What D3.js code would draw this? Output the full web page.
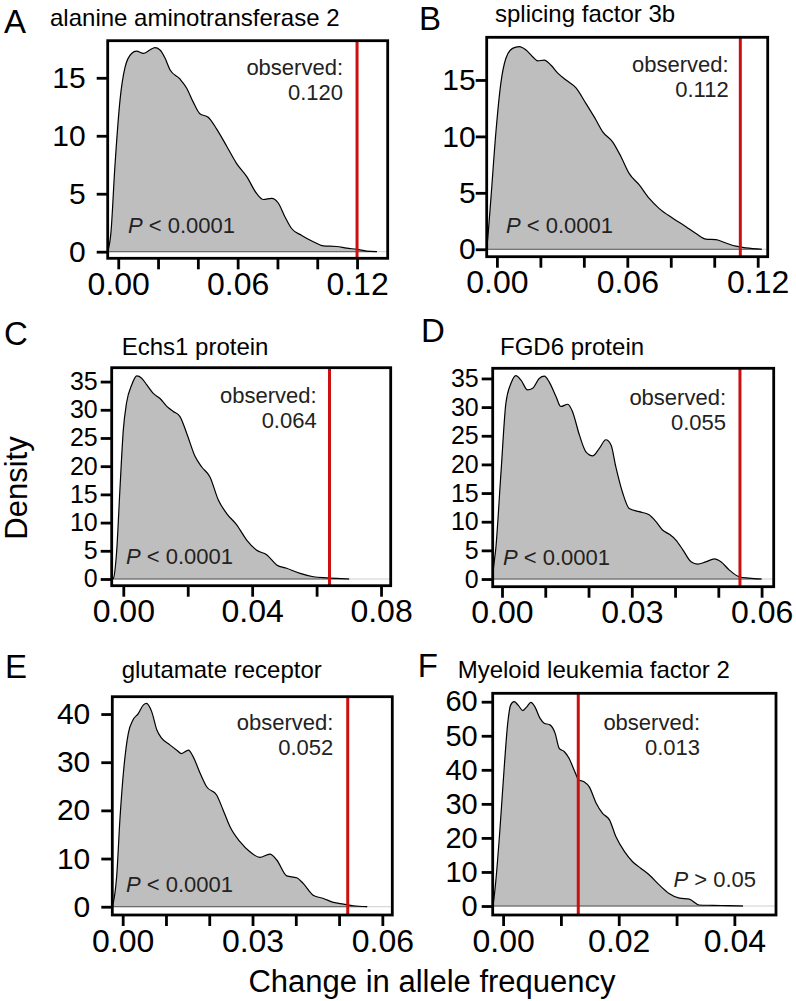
<!DOCTYPE html>
<html>
<head>
<meta charset="utf-8">
<script src="https://cdn.jsdelivr.net/npm/d3@7"></script>
<style>
    body { margin: 0; background: #fff; }
    svg text { font-family: "Liberation Sans", Arial, Helvetica, sans-serif; fill: #000; }
</style>
</head>
<body>
<div id="dataVis"></div>
<script>
//panel letters and gene names
var panelLetters = ["A", "B", "C", "D", "E", "F"];
var geneNames = ["alanine aminotransferase 2", "splicing factor 3b", "Echs1 protein",
    "FGD6 protein", "glutamate receptor", "Myeloid leukemia factor 2"];

//observed change and the p value text
var observedValues = [0.120, 0.112, 0.064, 0.055, 0.052, 0.013];
var observedLabels = ["0.120", "0.112", "0.064", "0.055", "0.052", "0.013"];
var pSigns = ["<", "<", "<", "<", "<", ">"];
var pValues = ["0.0001", "0.0001", "0.0001", "0.0001", "0.0001", "0.05"];

//ticks
var yTicks = [
    [0, 5, 10, 15],
    [0, 5, 10, 15],
    [0, 5, 10, 15, 20, 25, 30, 35],
    [0, 5, 10, 15, 20, 25, 30, 35],
    [0, 10, 20, 30, 40],
    [0, 10, 20, 30, 40, 50, 60]
];
var xTicks = [
    [0, 0.02, 0.04, 0.06, 0.08, 0.10, 0.12],
    [0, 0.02, 0.04, 0.06, 0.08, 0.10, 0.12],
    [0, 0.02, 0.04, 0.06, 0.08],
    [0, 0.01, 0.02, 0.03, 0.04, 0.05, 0.06],
    [0, 0.01, 0.02, 0.03, 0.04, 0.05, 0.06],
    [0, 0.01, 0.02, 0.03, 0.04]
];
var xTickLabels = [
    ["0.00", "0.06", "0.12"],
    ["0.00", "0.06", "0.12"],
    ["0.00", "0.04", "0.08"],
    ["0.00", "0.03", "0.06"],
    ["0.00", "0.03", "0.06"],
    ["0.00", "0.02", "0.04"]
];

//density curves [change, density]
var densA = [[-0.0053, 0], [-0.0037, 1.6], [-0.0017, 7.3], [0.0009, 13.1], [0.0034, 15.9], [0.0067, 17.1],
    [0.0092, 17.3], [0.0126, 17.1], [0.0159, 17.4], [0.0184, 17.6], [0.021, 17.4], [0.0235, 16.7],
    [0.026, 15.7], [0.031, 14.9], [0.0344, 14.1], [0.0377, 12.9], [0.041, 11.9], [0.0452, 11.6],
    [0.0494, 10.6], [0.0545, 9.1], [0.0595, 7.6], [0.0645, 6.5], [0.0696, 5.0], [0.0729, 4.5],
    [0.0771, 4.6], [0.0804, 4.2], [0.0838, 3.0], [0.0871, 2.0], [0.0922, 1.4], [0.098, 0.86],
    [0.103, 0.5], [0.1097, 0.45], [0.1148, 0.3], [0.12, 0.2], [0.1248, 0.05], [0.13, 0]];
var densB = [[-0.0047, 0], [-0.0043, 0.8], [-0.0028, 4.4], [-0.0005, 10.3], [0.0018, 14.7], [0.0041, 16.9],
    [0.0072, 17.8], [0.0103, 17.95], [0.0134, 17.65], [0.0164, 17.06], [0.0187, 16.7], [0.0218, 16.75],
    [0.0249, 16.3], [0.028, 15.6], [0.0318, 15.0], [0.0364, 14.3], [0.041, 12.9], [0.0456, 11.45],
    [0.0487, 10.4], [0.0533, 9.5], [0.0571, 8.2], [0.0609, 6.7], [0.0655, 5.7], [0.0701, 4.5],
    [0.0747, 3.6], [0.0809, 2.75], [0.087, 2.0], [0.0916, 1.4], [0.0962, 0.9], [0.1008, 0.85],
    [0.1054, 0.55], [0.11, 0.27], [0.1146, 0.12], [0.1219, 0]];
var densC = [[-0.0036, 0], [-0.0031, 0.1], [-0.0021, 4.6], [-0.001, 16.4], [0, 26.4], [0.001, 31.2],
    [0.0026, 34.4], [0.0042, 36.0], [0.0057, 35.6], [0.0073, 34.4], [0.0093, 32.9], [0.0114, 32.0],
    [0.0135, 30.6], [0.0155, 29.7], [0.0176, 28.8], [0.0197, 25.8], [0.0223, 21.7], [0.0243, 19.9],
    [0.0269, 18.1], [0.0295, 14.0], [0.0321, 11.6], [0.0352, 9.6], [0.0383, 6.9], [0.0414, 5.1],
    [0.0445, 4.3], [0.0476, 2.5], [0.0507, 1.9], [0.0549, 1.0], [0.059, 0.4], [0.0632, 0.2],
    [0.0663, 0.1], [0.0701, 0]];
var densD = [[-0.00215, 0], [-0.0021, 0.6], [-0.0014, 5.6], [-0.0002, 19.0], [0.0009, 30.7], [0.0021, 34.2],
    [0.0032, 35.5], [0.0044, 34.7], [0.0059, 33.0], [0.0071, 33.3], [0.0086, 35.0], [0.0098, 35.4],
    [0.0109, 34.4], [0.0125, 31.8], [0.0136, 30.1], [0.0152, 30.5], [0.0163, 29.2], [0.0179, 25.1],
    [0.0194, 22.2], [0.021, 21.5], [0.0225, 22.8], [0.024, 24.3], [0.0252, 23.4], [0.0263, 19.6],
    [0.0279, 15.0], [0.0294, 12.3], [0.0317, 11.75], [0.034, 11.2], [0.0356, 10.0], [0.0371, 8.55],
    [0.0387, 7.8], [0.0402, 6.8], [0.0418, 5.1], [0.0437, 3.0], [0.0452, 2.6], [0.0471, 3.0],
    [0.0491, 3.5], [0.0506, 3.0], [0.0525, 1.6], [0.0548, 0.4], [0.0571, 0.15], [0.06, 0]];
var densE = [[-0.0024, 0], [-0.0022, 0.7], [-0.0014, 6.2], [-0.0006, 18.7], [0.0003, 29.1], [0.0013, 36.0],
    [0.0024, 38.8], [0.0036, 40.1], [0.0048, 41.9], [0.0055, 42.2], [0.0067, 40.5], [0.0079, 36.7],
    [0.009, 35.0], [0.0109, 33.6], [0.0125, 32.5], [0.0136, 31.8], [0.0152, 32.5], [0.0163, 31.1],
    [0.0179, 27.7], [0.0194, 24.9], [0.0217, 23.2], [0.0232, 20.1], [0.0248, 16.6], [0.0271, 13.5],
    [0.0294, 11.4], [0.0317, 10.25], [0.034, 10.9], [0.0356, 9.7], [0.0379, 6.4], [0.0402, 6.0],
    [0.0417, 4.85], [0.044, 2.4], [0.0464, 1.7], [0.0487, 0.9], [0.051, 0.55], [0.0533, 0.2],
    [0.0565, 0]];
var densF = [[-0.0018, 0], [-0.0017, 0.8], [-0.0013, 6.7], [-0.0006, 21.3], [0.0002, 40.9], [0.0008, 53.7],
    [0.0013, 59.0], [0.0019, 60.0], [0.0026, 59.0], [0.0034, 57.4], [0.0041, 58.5], [0.0048, 59.8],
    [0.0055, 58.5], [0.0064, 55.1], [0.0071, 53.7], [0.0081, 53.2], [0.009, 50.7], [0.0097, 46.3],
    [0.0106, 45.3], [0.0114, 43.4], [0.0123, 39.9], [0.0131, 37.0], [0.014, 36.5], [0.0149, 35.0],
    [0.0161, 30.2], [0.0172, 27.2], [0.0184, 25.3], [0.0195, 20.4], [0.021, 15.95], [0.0224, 13.0],
    [0.0238, 11.1], [0.0253, 9.1], [0.027, 6.2], [0.0287, 3.7], [0.0305, 2.3], [0.0322, 2.0],
    [0.0339, 0.3], [0.0363, 0.2], [0.0391, 0.1], [0.0415, 0]];
var densities = [densA, densB, densC, densD, densE, densF];

//axis ranges of each panel
var xDomains = [[-0.0053, 0.1354], [-0.0047, 0.1246], [-0.0036, 0.0830], [-0.00215, 0.0628], [-0.0024, 0.0623], [-0.0018, 0.0472]];
var yDomains = [[-0.57, 18.2], [-0.66, 18.78], [-1.19, 37.46], [-1.34, 36.77], [-1.72, 43.6], [-2.64, 62.47]];


var width = 796, height = 1001;

//layout of the panels (pixels)
var layout = [
    { box: [107.7, 40.7, 387.7, 258.3], letter: [4, 33], title: [50, 26], obs: [343, 75], p: [128, 233, "start"], yGap: 11, ySize: 30 },
    { box: [486.7, 37.3, 767.7, 256.7], letter: [419, 30], title: [495, 22], obs: [728.7, 72], p: [506, 233, "start"], yGap: 0, ySize: 30 },
    { box: [111.7, 367.7, 390.7, 585.7], letter: [4, 345], title: [121.7, 355], obs: [316.7, 403], p: [126, 564, "start"], yGap: 3, ySize: 25 },
    { box: [492.7, 368.3, 773.7, 586.7], letter: [421, 342], title: [500, 355], obs: [726, 405], p: [503, 565, "start"], yGap: 3, ySize: 25 },
    { box: [112.3, 696.7, 392.3, 915], letter: [5, 678], title: [121.7, 678], obs: [333.3, 730], p: [126, 892, "start"], yGap: 11, ySize: 30 },
    { box: [492.7, 693.3, 776, 915], letter: [417.7, 677], title: [457.7, 678], obs: [700, 730], p: [756, 887, "end"], yGap: 4, ySize: 29 }
];

var fontFam = '"Liberation Sans", Arial, Helvetica, sans-serif';

var svg = d3.select("#dataVis").append("svg")
    .attr("width", width)
    .attr("height", height);

layout.forEach(function (L, i) {
    drawPanel(L, i);
});

//shared axis titles
svg.append("text")
    .attr("transform", "translate(16,488) rotate(-90)")
    .attr("text-anchor", "middle")
    .attr("dy", "0.35em")
    .style("font-size", "31px")
    .text("Density");

svg.append("text")
    .attr("x", 432)
    .attr("y", 992)
    .attr("text-anchor", "middle")
    .style("font-size", "31px")
    .text("Change in allele frequency");


function drawPanel(L, i) {
    var left = L.box[0], top = L.box[1], right = L.box[2], bottom = L.box[3];

    var x = d3.scaleLinear().domain(xDomains[i]).range([left, right]);
    var y = d3.scaleLinear().domain(yDomains[i]).range([bottom, top]);

    var g = svg.append("g").attr("class", "panel");

    g.append("clipPath")
        .attr("id", "clip" + i)
        .append("rect")
        .attr("x", left)
        .attr("y", top)
        .attr("width", right - left)
        .attr("height", bottom - top);

    var plot = g.append("g").attr("clip-path", "url(#clip" + i + ")");

    //zero line
    plot.append("line")
        .attr("x1", left)
        .attr("x2", right)
        .attr("y1", y(0))
        .attr("y2", y(0))
        .style("stroke", "#cfcfcf")
        .style("stroke-width", "1px");

    var area = d3.area()
        .x(function (d) { return x(d[0]); })
        .y0(y(0))
        .y1(function (d) { return y(d[1]); })
        .curve(d3.curveMonotoneX);

    var line = d3.line()
        .x(function (d) { return x(d[0]); })
        .y(function (d) { return y(d[1]); })
        .curve(d3.curveMonotoneX);

    plot.append("path")
        .datum(densities[i])
        .attr("d", area)
        .style("fill", "#bebebe")
        .style("stroke", "none");

    plot.append("line")
        .attr("x1", x(densities[i][0][0]))
        .attr("x2", x(densities[i][densities[i].length - 1][0]))
        .attr("y1", y(0))
        .attr("y2", y(0))
        .style("stroke", "#555")
        .style("stroke-width", "1px");

    plot.append("path")
        .datum(densities[i])
        .attr("d", line)
        .style("fill", "none")
        .style("stroke", "#000")
        .style("stroke-width", "1.2px");

    //observed value
    plot.append("line")
        .attr("x1", x(observedValues[i]))
        .attr("x2", x(observedValues[i]))
        .attr("y1", top)
        .attr("y2", bottom)
        .style("stroke", "#cc1010")
        .style("stroke-width", "3px");

    //axes
    var labelled = xTickLabels[i];
    var xAxisCall = d3.axisBottom(x)
        .tickValues(xTicks[i])
        .tickSize(11)
        .tickPadding(3)
        .tickFormat(function (d) {
            var s = d3.format(".2f")(d);
            return labelled.indexOf(s) >= 0 ? s : "";
        });

    var yAxisCall = d3.axisLeft(y)
        .tickValues(yTicks[i])
        .tickSize(11)
        .tickPadding(L.yGap)
        .tickFormat(d3.format("d"));

    var xa = g.append("g")
        .attr("class", "x axis")
        .attr("transform", "translate(0," + bottom + ")")
        .call(xAxisCall);
    xa.attr("font-family", fontFam).attr("font-size", 32);

    var ya = g.append("g")
        .attr("class", "y axis")
        .attr("transform", "translate(" + left + ",0)")
        .call(yAxisCall);
    ya.attr("font-family", fontFam).attr("font-size", L.ySize);

    g.selectAll(".axis .domain").remove();
    g.selectAll(".axis line").style("stroke", "#000").style("stroke-width", "2.8px");
    g.selectAll(".axis text").style("fill", "#000");

    //box
    g.append("rect")
        .attr("x", left)
        .attr("y", top)
        .attr("width", right - left)
        .attr("height", bottom - top)
        .style("fill", "none")
        .style("stroke", "#000")
        .style("stroke-width", "2.8px");

    //texts
    g.append("text")
        .attr("x", L.letter[0])
        .attr("y", L.letter[1])
        .style("font-size", "33px")
        .text(panelLetters[i]);

    g.append("text")
        .attr("x", L.title[0])
        .attr("y", L.title[1])
        .style("font-size", "24px")
        .text(geneNames[i]);

    g.append("text")
        .attr("x", L.obs[0])
        .attr("y", L.obs[1])
        .attr("text-anchor", "end")
        .style("font-size", "22px")
        .style("fill", "#222")
        .text("observed:");

    g.append("text")
        .attr("x", L.obs[0])
        .attr("y", L.obs[1] + 25)
        .attr("text-anchor", "end")
        .style("font-size", "22px")
        .style("fill", "#222")
        .text(observedLabels[i]);

    var pt = g.append("text")
        .attr("x", L.p[0])
        .attr("y", L.p[1])
        .attr("text-anchor", L.p[2])
        .style("font-size", "22px")
        .style("fill", "#222");
    pt.append("tspan").style("font-style", "italic").text("P");
    pt.append("tspan").text(" " + pSigns[i] + " " + pValues[i]);
}

</script>
</body>
</html>
